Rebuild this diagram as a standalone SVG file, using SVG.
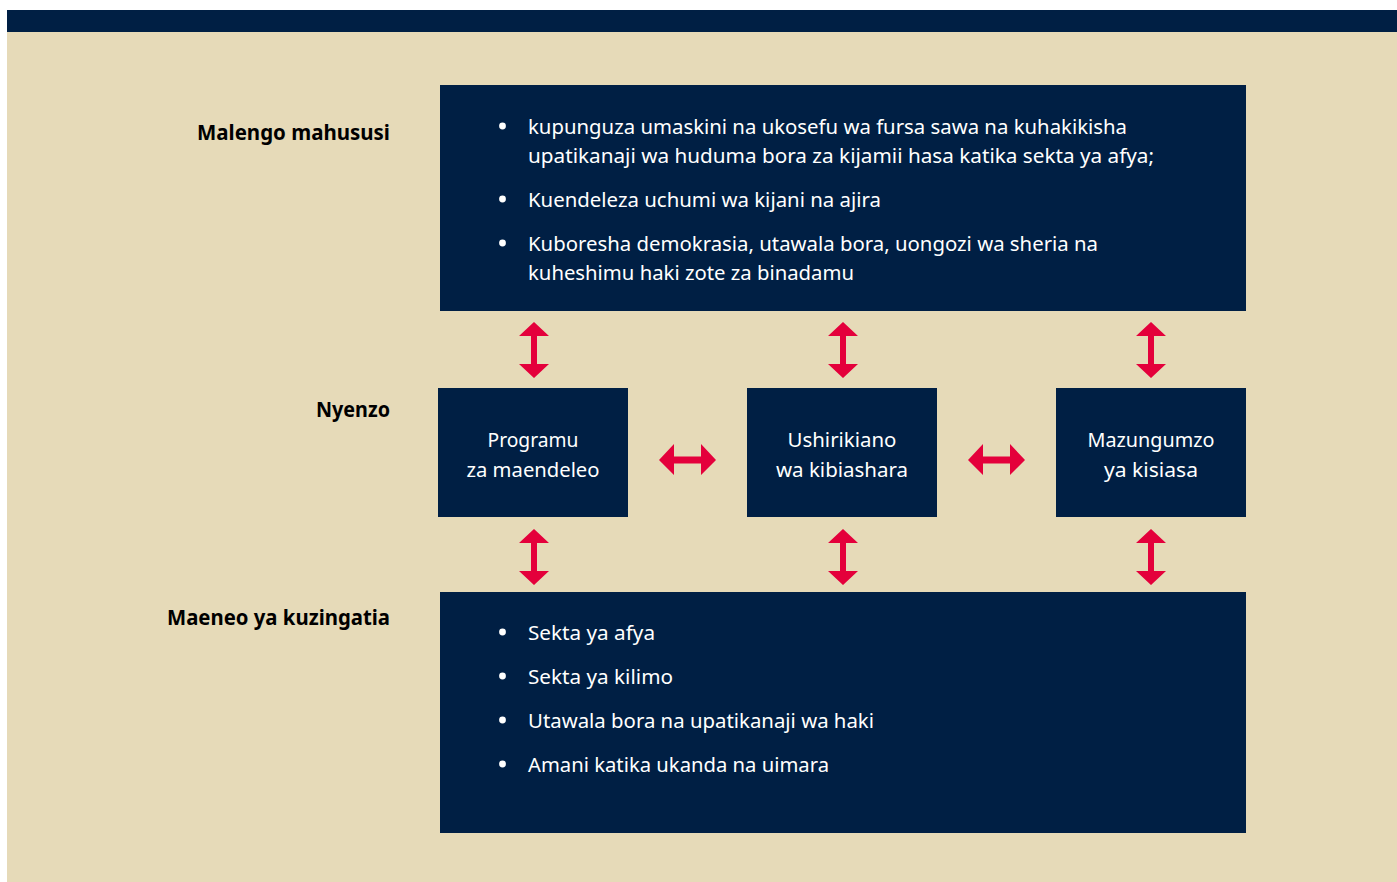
<svg xmlns="http://www.w3.org/2000/svg" width="1397" height="882" viewBox="0 0 1397 882">
<defs>
<style>
.bg{fill:#e6dab8}
.navy{fill:#001f44}
.t{font-family:"Noto Sans","Open Sans",sans-serif;font-size:19px;fill:#ffffff}
.m{font-size:20px}
.c{text-anchor:middle}
.dot{fill:#ffffff}
.lbl{font-family:"Noto Sans","Open Sans",sans-serif;font-size:20.5px;font-weight:bold;fill:#000000;text-anchor:end}
.arr{fill:#e4003b}
</style>
<path id="va" d="M0,0 L15,14 L3,14 L3,42 L15,42 L0,56 L-15,42 L-3,42 L-3,14 L-15,14 Z"/>
<path id="ha" d="M0,0 L15,-16 L15,-3.5 L42,-3.5 L42,-16 L57,0 L42,15 L42,3.5 L15,3.5 L15,15 Z"/>
</defs>
<rect x="0" y="0" width="1397" height="882" fill="#ffffff"/>
<rect class="bg" x="7" y="10" width="1390" height="872"/>
<rect class="navy" x="7" y="10" width="1390" height="22"/>

<g id="labels">
<text class="lbl" x="390" y="140" textLength="193" lengthAdjust="spacingAndGlyphs">Malengo mahususi</text>
<text class="lbl" x="390" y="417" textLength="74" lengthAdjust="spacingAndGlyphs">Nyenzo</text>
<text class="lbl" x="390" y="625" textLength="223" lengthAdjust="spacingAndGlyphs">Maeneo ya kuzingatia</text>
</g>

<g id="malengo">
<rect class="navy" x="440" y="85" width="806" height="226"/>
<circle class="dot" cx="502.5" cy="126" r="3.4"/>
<text class="t" x="528" y="134" textLength="599" lengthAdjust="spacingAndGlyphs">kupunguza umaskini na ukosefu wa fursa sawa na kuhakikisha</text>
<text class="t" x="528" y="163" textLength="626" lengthAdjust="spacingAndGlyphs">upatikanaji wa huduma bora za  kijamii hasa katika sekta ya afya;</text>
<circle class="dot" cx="502.5" cy="199" r="3.4"/>
<text class="t" x="528" y="207" textLength="353" lengthAdjust="spacingAndGlyphs">Kuendeleza uchumi wa kijani na ajira</text>
<circle class="dot" cx="502.5" cy="243" r="3.4"/>
<text class="t" x="528" y="251" textLength="570" lengthAdjust="spacingAndGlyphs">Kuboresha demokrasia, utawala bora, uongozi wa sheria na</text>
<text class="t" x="528" y="280" textLength="326" lengthAdjust="spacingAndGlyphs">kuheshimu haki zote za binadamu</text>
</g>

<g id="programu">
<rect class="navy" x="438" y="388" width="190" height="129"/>
<text class="t m c" x="533" y="447" textLength="91" lengthAdjust="spacingAndGlyphs">Programu</text>
<text class="t m c" x="533" y="477" textLength="133" lengthAdjust="spacingAndGlyphs">za maendeleo</text>
</g>
<g id="ushirikiano">
<rect class="navy" x="747" y="388" width="190" height="129"/>
<text class="t m c" x="842" y="447" textLength="109" lengthAdjust="spacingAndGlyphs">Ushirikiano</text>
<text class="t m c" x="842" y="477" textLength="132" lengthAdjust="spacingAndGlyphs">wa kibiashara</text>
</g>
<g id="mazungumzo">
<rect class="navy" x="1056" y="388" width="190" height="129"/>
<text class="t m c" x="1151" y="447" textLength="127" lengthAdjust="spacingAndGlyphs">Mazungumzo</text>
<text class="t m c" x="1151" y="477" textLength="94" lengthAdjust="spacingAndGlyphs">ya kisiasa</text>
</g>

<g id="maeneo">
<rect class="navy" x="440" y="592" width="806" height="241"/>
<circle class="dot" cx="502.5" cy="632" r="3.4"/>
<text class="t" x="528" y="640" textLength="127" lengthAdjust="spacingAndGlyphs">Sekta ya afya</text>
<circle class="dot" cx="502.5" cy="676" r="3.4"/>
<text class="t" x="528" y="684" textLength="145" lengthAdjust="spacingAndGlyphs">Sekta ya kilimo</text>
<circle class="dot" cx="502.5" cy="720" r="3.4"/>
<text class="t" x="528" y="728" textLength="346" lengthAdjust="spacingAndGlyphs">Utawala bora na upatikanaji wa haki</text>
<circle class="dot" cx="502.5" cy="764" r="3.4"/>
<text class="t" x="528" y="772" textLength="301" lengthAdjust="spacingAndGlyphs">Amani katika ukanda na uimara</text>
</g>

<g id="connectors" class="arr">
<use href="#va" x="534" y="322"/>
<use href="#va" x="843" y="322"/>
<use href="#va" x="1151" y="322"/>
<use href="#va" x="534" y="529"/>
<use href="#va" x="843" y="529"/>
<use href="#va" x="1151" y="529"/>
<use href="#ha" x="659" y="460"/>
<use href="#ha" x="968" y="460"/>
</g>
</svg>
